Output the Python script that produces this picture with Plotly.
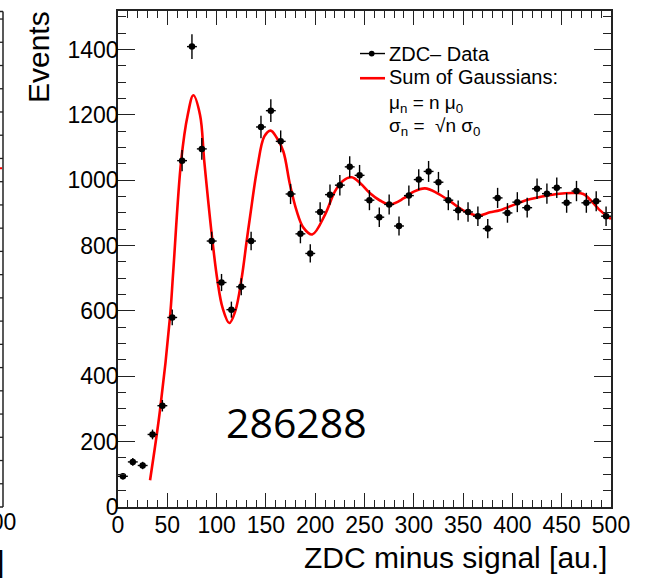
import numpy as np
import plotly.graph_objects as go

# ---------------- data ----------------
bin_centers = [5, 15, 25, 35, 45, 55, 65, 75, 85, 95,
               105, 115, 125, 135, 145, 155, 165, 175, 185, 195,
               205, 215, 225, 235, 245, 255, 265, 275, 285, 295,
               305, 315, 325, 335, 345, 355, 365, 375, 385, 395,
               405, 415, 425, 435, 445, 455, 465, 475, 485, 495]
events = [94, 138, 127, 222, 310, 580, 1060, 1409, 1096, 814,
          687, 604, 674, 814, 1163, 1213, 1119, 958, 836, 776,
          903, 956, 985, 1041, 1015, 939, 887, 926, 860, 953,
          1002, 1027, 994, 939, 908, 903, 890, 852, 946, 900,
          933, 916, 974, 959, 977, 931, 967, 931, 936, 890]
event_errors = list(np.sqrt(np.array(events, dtype=float)))

fit_x = [32.5, 42.6, 52.7, 56, 64, 70.7, 76.4, 83.2, 87.5, 96,
         101, 106, 112.9, 119, 125.4, 130.5, 134, 141.3, 148.4, 154.8,
         161, 167.7, 174.4, 181.2, 188, 197, 210, 220, 228, 237,
         246, 255.6, 265.7, 275.9, 290, 300, 311.4, 324, 336.7, 350,
         365.4, 377.3, 387.4, 411, 430, 445, 463.5, 472, 478.7, 487.8,
         497, 500]
fit_y = [82, 296, 580, 720, 1058, 1200, 1260, 1200, 1058, 809,
         690, 610, 563, 600, 700, 814, 890, 1038, 1134, 1152,
         1130, 1088, 987, 906, 855, 834, 895, 966, 998, 1009,
         990, 960, 938, 926, 945, 965, 975, 960, 936, 908,
         892, 902, 908, 936, 950, 958, 961, 958, 941, 911,
         888, 882]

x_range = [0, 500]
y_range = [0, 1518]

# ---------------- layout geometry (pixels) ----------------
W, H = 648, 582
L, R, T, B = 118, 37, 9, 75
PW, PH = W - L - R, H - T - B


def px(x):
    return (x - L) / PW


def py(y):
    return (H - B - y) / PH


FONT = "Liberation Sans, Arial, Helvetica, sans-serif"
FRAME = "#222222"

fig = go.Figure()

fig.add_trace(go.Scatter(
    x=fit_x, y=fit_y, mode="lines", name="Sum of Gaussians",
    line=dict(color="#ff0000", width=2.6, shape="spline", smoothing=1.0),
    showlegend=False, hoverinfo="skip"))

fig.add_trace(go.Scatter(
    x=bin_centers, y=events, mode="markers", name="ZDC– Data",
    marker=dict(color="black", size=6.5, symbol="circle"),
    error_y=dict(type="data", array=event_errors, thickness=1.4, width=0, color="black"),
    error_x=dict(type="constant", value=5, thickness=1.4, width=0, color="black"),
    showlegend=False))

fig.update_xaxes(
    range=x_range, dtick=50, tick0=0, showgrid=False, zeroline=False,
    showline=True, linecolor=FRAME, linewidth=1.5, mirror="allticks",
    ticks="inside", ticklen=14, tickwidth=1.3, tickcolor=FRAME,
    minor=dict(dtick=10, ticks="inside", ticklen=7, tickwidth=1.3, tickcolor=FRAME, showgrid=False),
    ticklabelstandoff=-3,
    tickfont=dict(family=FONT, size=23, color="black"))
fig.update_yaxes(
    range=y_range, dtick=200, tick0=0, showgrid=False, zeroline=False,
    showline=True, linecolor=FRAME, linewidth=1.5, mirror="allticks",
    ticks="inside", ticklen=17, tickwidth=1.3, tickcolor=FRAME,
    minor=dict(dtick=50, ticks="inside", ticklen=8, tickwidth=1.3, tickcolor=FRAME, showgrid=False),
    ticklabelstandoff=-7,
    tickfont=dict(family=FONT, size=23, color="black"))

shapes = []
annotations = []

# axis titles
annotations.append(dict(
    x=px(609), y=py(558), xref="paper", yref="paper", text="ZDC minus signal [au.]",
    showarrow=False, xanchor="right", yanchor="middle",
    font=dict(family=FONT, size=30, color="black")))
annotations.append(dict(
    x=px(38), y=py(7), xref="paper", yref="paper", text="Events", textangle=-90,
    showarrow=False, xanchor="center", yanchor="top",
    font=dict(family=FONT, size=30, color="black")))

# run number
annotations.append(dict(
    x=px(296), y=py(422), xref="paper", yref="paper", text="286288",
    showarrow=False, xanchor="center", yanchor="middle",
    font=dict(family="Open Sans, sans-serif", size=41, color="black")))

# manual legend
shapes.append(dict(type="line", xref="paper", yref="paper",
                   x0=px(360), x1=px(385), y0=py(51.7), y1=py(51.7),
                   line=dict(color="black", width=1.4)))
shapes.append(dict(type="circle", xref="paper", yref="paper",
                   x0=px(368.8), x1=px(374.6), y0=py(48.8), y1=py(54.6),
                   fillcolor="black", line=dict(color="black", width=0)))
shapes.append(dict(type="line", xref="paper", yref="paper",
                   x0=px(360), x1=px(385), y0=py(76.5), y1=py(76.5),
                   line=dict(color="#ff0000", width=2.6)))
legend_lines = [
    ("ZDC– Data", 52, 20),
    ("Sum of Gaussians:", 75, 20),
    ("μ<sub>n</sub> = n μ<sub>0</sub>", 102, 19),
    ("σ<sub>n</sub> =  √n σ<sub>0</sub>", 125, 19),
]
for txt, yc, fs in legend_lines:
    annotations.append(dict(
        x=px(387), y=py(yc), xref="paper", yref="paper", text=txt,
        showarrow=False, xanchor="left", yanchor="middle",
        font=dict(family=FONT, size=fs, color="black")))

# partially visible neighbouring panel on the far left
shapes.append(dict(type="line", xref="paper", yref="paper",
                   x0=px(3), x1=px(3), y0=py(507), y1=py(9.5),
                   line=dict(color=FRAME, width=1.5)))
shapes.append(dict(type="line", xref="paper", yref="paper",
                   x0=px(-5), x1=px(3), y0=py(9.5), y1=py(9.5),
                   line=dict(color=FRAME, width=1.5)))
shapes.append(dict(type="line", xref="paper", yref="paper",
                   x0=px(-5), x1=px(3), y0=py(507), y1=py(507),
                   line=dict(color=FRAME, width=1.5)))
for k in range(1, 22):
    yy = 507 - 23.33 * k
    shapes.append(dict(type="line", xref="paper", yref="paper",
                       x0=px(-10), x1=px(3), y0=py(yy), y1=py(yy),
                       line=dict(color=FRAME, width=1.3)))
shapes.append(dict(type="line", xref="paper", yref="paper",
                   x0=px(-3), x1=px(2), y0=py(167), y1=py(167),
                   line=dict(color="#ff0000", width=2)))
annotations.append(dict(
    x=px(18), y=py(522), xref="paper", yref="paper", text="500",
    showarrow=False, xanchor="right", yanchor="middle",
    font=dict(family=FONT, size=23, color="black")))
annotations.append(dict(
    x=px(6), y=py(562), xref="paper", yref="paper", text="[au.]",
    showarrow=False, xanchor="right", yanchor="middle",
    font=dict(family=FONT, size=30, color="black")))

fig.update_layout(
    width=W, height=H,
    margin=dict(l=L, r=R, t=T, b=B, pad=0),
    paper_bgcolor="white", plot_bgcolor="white",
    showlegend=False,
    shapes=shapes, annotations=annotations,
)

fig.write_html(
    "out.html",
    config={"displayModeBar": False},
    post_script="document.body.style.margin='0';document.body.style.padding='0';document.body.style.overflow='hidden';",
)
